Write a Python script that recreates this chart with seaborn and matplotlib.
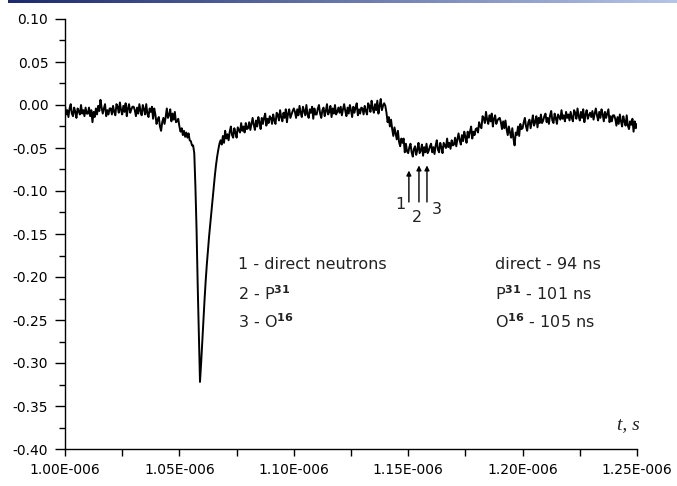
import numpy as np
import matplotlib
matplotlib.use("Agg")
import matplotlib.pyplot as plt
import seaborn as sns
from matplotlib.ticker import FuncFormatter, MultipleLocator

# sampling grid of the trace (microseconds)
t_start_us = 1.000
t_step_us = 0.0005

# signal (in units of 0.001), one value per 0.5 ns
signal_milli = [
    -1, -11, -6, -14, -4, 1, -10, -13, -3, -8, -15, -4, -7, -11, 0, -10, -6, -13, -3, -10,
    -10, -3, -13, -6, -20, -8, -14, -4, -11, -1, -7, 6, -3, -10, -4, 1, -13, -6, -11, -4,
    -4, -11, -1, -8, -12, 1, -2, -9, 3, -6, -11, -1, -8, 2, -13, -4, 1, -9, -5, -2,
    -2, -6, -13, -3, -10, 1, -7, -12, 0, -5, -11, 1, -10, -14, -4, -8, -2, -16, -4, -11,
    -22, -17, -14, -25, -30, -20, -15, -22, -14, -4, -15, -12, -5, -19, -10, -17, -8, -20, -19, -16,
    -25, -31, -27, -35, -30, -37, -32, -38, -33, -41, -42, -47, -47, -56, -95, -145, -210, -265, -322, -300,
    -275, -250, -226, -204, -185, -168, -152, -138, -124, -110, -96, -82, -70, -60, -52, -45, -41, -46, -36, -44,
    -30, -39, -34, -41, -31, -25, -35, -38, -27, -32, -38, -26, -29, -32, -21, -30, -25, -32, -21, -28,
    -27, -20, -29, -22, -15, -23, -29, -18, -25, -14, -20, -28, -15, -22, -15, -10, -24, -16, -21, -13,
    -15, -22, -11, -18, -22, -9, -11, -18, -6, -14, -19, -9, -15, -5, -20, -10, -5, -15, -11, -7,
    -4, -8, -15, -5, -12, -1, -9, -14, -2, -7, -12, 0, -11, -15, -5, -9, -2, -16, -4, -11,
    -11, -4, 0, -10, -15, -6, -3, -13, -7, 1, -11, -8, -1, -14, -4, -10, 0, -11, -8, -3,
    -9, -2, -12, -5, 1, -7, -13, -3, -10, 0, -6, -14, -2, -9, -3, 2, -12, -5, -10, -3,
    -4, -11, -1, -7, -11, 2, -1, -8, 5, -4, -9, 1, -6, 5, -10, -1, 7, -6, -1, 2,
    -1, -9, -20, -14, -25, -17, -28, -36, -26, -33, -40, -30, -43, -48, -39, -44, -39, -55, -45, -54,
    -56, -49, -45, -55, -60, -51, -48, -58, -52, -44, -56, -53, -46, -59, -49, -55, -45, -56, -53, -48,
    -45, -55, -49, -57, -47, -41, -52, -55, -44, -49, -56, -44, -47, -50, -39, -49, -44, -51, -41, -47,
    -46, -38, -48, -40, -33, -41, -46, -35, -42, -31, -37, -44, -31, -38, -31, -25, -39, -31, -35, -28,
    -27, -32, -20, -25, -27, -13, -15, -21, -8, -17, -22, -12, -19, -10, -25, -16, -12, -22, -18, -16,
    -15, -20, -28, -19, -27, -18, -28, -35, -25, -32, -38, -27, -39, -47, -32, -35, -25, -36, -22, -28,
    -27, -20, -15, -25, -30, -20, -17, -27, -20, -12, -24, -20, -13, -26, -15, -21, -11, -21, -18, -13,
    -10, -20, -15, -22, -12, -7, -18, -21, -10, -15, -22, -11, -14, -17, -6, -16, -12, -19, -8, -15,
    -11, -18, -8, -15, -19, -6, -9, -16, -4, -13, -18, -8, -15, -5, -20, -11, -6, -16, -12, -9,
    -14, -7, -17, -10, -4, -12, -18, -8, -15, -5, -11, -19, -8, -15, -10, -5, -20, -13, -19, -12,
    -12, -16, -24, -14, -22, -11, -19, -25, -13, -19, -24, -12, -24, -28, -19, -23, -16, -31, -19, -27,
    -22,
]

# arrows 1, 2, 3 (time in us, head and tail heights)
arrow_t_us = [1.1503, 1.1547, 1.1582]
arrow_head = [-0.073, -0.067, -0.067]
arrow_tail = [-0.116, -0.116, -0.116]
arrow_labels = ["1", "2", "3"]
arrow_label_t_us = [1.1465, 1.1540, 1.1625]
arrow_label_y = [-0.116, -0.131, -0.121]

legend_left = ["1 - direct neutrons", "2 - P$^{\\mathbf{31}}$", "3 - O$^{\\mathbf{16}}$"]
legend_right = ["direct - 94 ns", "P$^{\\mathbf{31}}$ - 101 ns", "O$^{\\mathbf{16}}$ - 105 ns"]
legend_y = [-0.186, -0.219, -0.252]

t = (t_start_us + t_step_us * np.arange(len(signal_milli))) * 1e-6
signal = np.array(signal_milli) / 1000.0

sns.set_theme(style="ticks")
plt.rcParams['font.family'] = ['DejaVu Sans']
plt.rcParams['mathtext.fontset'] = 'dejavusans'

fig = plt.figure(figsize=(6.77, 4.86), dpi=100)

# thin gradient band across the top of the slide
band = fig.add_axes([8 / 677, 1 - 3 / 486, 1 - 8 / 677, 3 / 486])
band.imshow(np.linspace(0, 1, 256).reshape(1, -1), aspect='auto',
            cmap=matplotlib.colors.LinearSegmentedColormap.from_list('b', ['#1c2a6e', '#b6c5e6']))
band.axis('off')

ax = fig.add_axes([65 / 677, 37 / 486, 572 / 677, 430 / 486])
sns.lineplot(x=t, y=signal, ax=ax, color='black', lw=1.4)

ax.set_xlim(1.0e-6, 1.25e-6)
ax.set_ylim(-0.40, 0.10)
ax.xaxis.set_major_locator(MultipleLocator(0.05e-6))
ax.xaxis.set_minor_locator(MultipleLocator(0.025e-6))
ax.yaxis.set_major_locator(MultipleLocator(0.05))
ax.yaxis.set_minor_locator(MultipleLocator(0.025))
ax.xaxis.set_major_formatter(FuncFormatter(lambda v, p: f"{v * 1e6:.2f}E-006"))
ax.yaxis.set_major_formatter(FuncFormatter(lambda v, p: f"{v:.2f}"))
ax.tick_params(axis='both', which='major', labelsize=10, colors='black', width=1, direction='out')
ax.tick_params(axis='y', which='major', length=7, pad=5)
ax.tick_params(axis='y', which='minor', length=4, width=1, color='black')
ax.tick_params(axis='x', which='major', length=5, pad=5)
ax.tick_params(axis='x', which='minor', length=5, width=1, color='black')
for s in ['left', 'bottom']:
    ax.spines[s].set_color('black')
    ax.spines[s].set_linewidth(1)
sns.despine(ax=ax)
ax.set_xlabel('')
ax.set_ylabel('')

for i in range(len(arrow_t_us)):
    ax.annotate('', xy=(arrow_t_us[i] * 1e-6, arrow_head[i]),
                xytext=(arrow_t_us[i] * 1e-6, arrow_tail[i]),
                arrowprops=dict(arrowstyle='-|>', lw=1, color='black', mutation_scale=7))
    ax.text(arrow_label_t_us[i] * 1e-6, arrow_label_y[i], arrow_labels[i],
            fontsize=11.5, ha='center', va='center', color='#222222')

for i in range(3):
    ax.text(1.0756e-6, legend_y[i], legend_left[i], fontsize=11.5, va='center', color='#222222')
    ax.text(1.1879e-6, legend_y[i], legend_right[i], fontsize=11.5, va='center', color='#222222')

ax.text(1.005, 0.056, 't, s', transform=ax.transAxes, ha='right', va='center',
        fontsize=14, style='italic', family='Liberation Serif', color='#222222')

fig.savefig('out.png', dpi=100)
